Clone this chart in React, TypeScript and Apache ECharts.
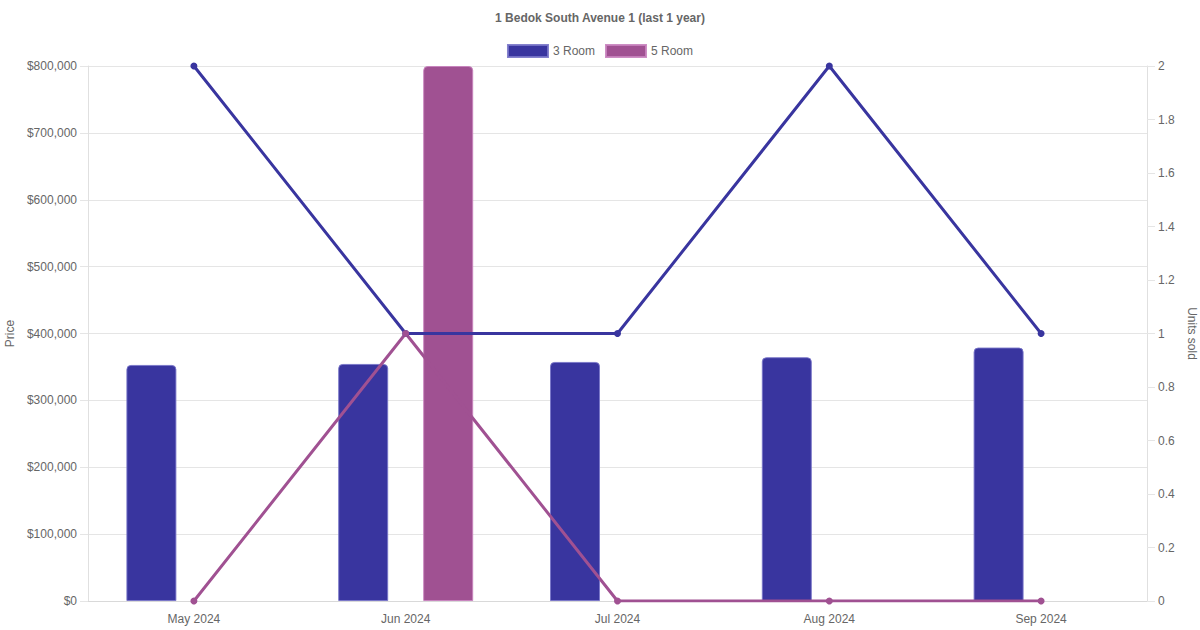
import React, { useEffect, useRef } from "react";
import * as echarts from "echarts";

const categories = ["May 2024", "Jun 2024", "Jul 2024", "Aug 2024", "Sep 2024"];
const price3Room = [353000, 354500, 357500, 364500, 379000];
const price5Room: (number | null)[] = [null, 800000, null, null, null];
const units3Room = [2, 1, 1, 2, 1];
const units5Room = [0, 1, 0, 0, 0];

const COLOR_3 = "#39359f";
const COLOR_5 = "#a05192";
const FONT = "'Liberation Sans', Arial, Helvetica, sans-serif";

export default function App() {
  const ref = useRef<HTMLDivElement>(null);

  useEffect(() => {
    if (!ref.current) return;
    const chart = echarts.init(ref.current, undefined, { renderer: "svg" });
    const textStyle = { color: "#666", fontSize: 12, fontFamily: FONT };
    chart.setOption({
      animation: false,
      textStyle: { fontFamily: FONT },
      title: {
        text: "1 Bedok South Avenue 1 (last 1 year)",
        left: "center",
        top: 7,
        textStyle: { color: "#666", fontSize: 12, fontWeight: "bold", fontFamily: FONT },
      },
      legend: {
        top: 39,
        left: "center",
        itemWidth: 40,
        itemHeight: 12,
        itemGap: 10,
        textStyle: { color: "#666", fontSize: 12, fontFamily: FONT },
        data: [
          { name: "3 Room", icon: "rect", itemStyle: { color: COLOR_3 } },
          { name: "5 Room", icon: "rect", itemStyle: { color: COLOR_5 } },
        ],
      },
      grid: { left: 88, right: 53, top: 66, bottom: 29, containLabel: false, outerBoundsMode: "none" },
      xAxis: {
        type: "category",
        data: categories,
        axisTick: { show: false },
        axisLine: { lineStyle: { color: "#d9d9d9" } },
        axisLabel: { ...textStyle, margin: 12 },
        splitLine: { show: false },
      },
      yAxis: [
        {
          type: "value",
          min: 0,
          max: 800000,
          interval: 100000,
          name: "Price",
          nameLocation: "middle",
          nameGap: 71,
          nameTextStyle: { color: "#666", fontSize: 12, fontFamily: FONT },
          axisLine: { show: true, lineStyle: { color: "#e0e0e0" } },
          axisTick: { show: true, length: 8, lineStyle: { color: "#e5e5e5" } },
          axisLabel: {
            ...textStyle,
            margin: 11,
            formatter: (v: number) => "$" + v.toLocaleString("en-US"),
          },
          splitLine: { lineStyle: { color: "#e5e5e5" } },
        },
        {
          type: "value",
          min: 0,
          max: 2,
          interval: 0.2,
          name: "Units sold",
          nameLocation: "middle",
          nameGap: 36,
          nameRotate: -90,
          nameTextStyle: { color: "#666", fontSize: 12, fontFamily: FONT },
          axisLine: { show: true, lineStyle: { color: "#e0e0e0" } },
          axisTick: { show: true, length: 8, lineStyle: { color: "#e5e5e5" } },
          axisLabel: { ...textStyle, margin: 11 },
          splitLine: { show: false },
        },
      ],
      series: [
        {
          name: "3 Room",
          type: "bar",
          data: price3Room,
          barWidth: 50,
          barGap: "70%",
          itemStyle: {
            color: COLOR_3,
            borderRadius: [4, 4, 0, 0],
            borderColor: "rgba(120,116,200,0.9)",
            borderWidth: 1,
          },
          z: 2,
        },
        {
          name: "5 Room",
          type: "bar",
          data: price5Room,
          barWidth: 50,
          barGap: "70%",
          itemStyle: {
            color: COLOR_5,
            borderRadius: [4, 4, 0, 0],
            borderColor: "rgba(200,130,190,0.9)",
            borderWidth: 1,
          },
          z: 2,
        },
        {
          name: "3 Room",
          type: "line",
          yAxisIndex: 1,
          data: units3Room,
          symbol: "circle",
          symbolSize: 7,
          lineStyle: { color: COLOR_3, width: 3 },
          itemStyle: { color: COLOR_3 },
          z: 5,
        },
        {
          name: "5 Room",
          type: "line",
          yAxisIndex: 1,
          data: units5Room,
          symbol: "circle",
          symbolSize: 7,
          lineStyle: { color: COLOR_5, width: 3 },
          itemStyle: { color: COLOR_5 },
          z: 5,
        },
      ],
    });
    return () => chart.dispose();
  }, []);

  return (
    <div
      ref={ref}
      style={{ position: "fixed", left: 0, top: 0, width: 1200, height: 630, background: "#fff" }}
    />
  );
}
